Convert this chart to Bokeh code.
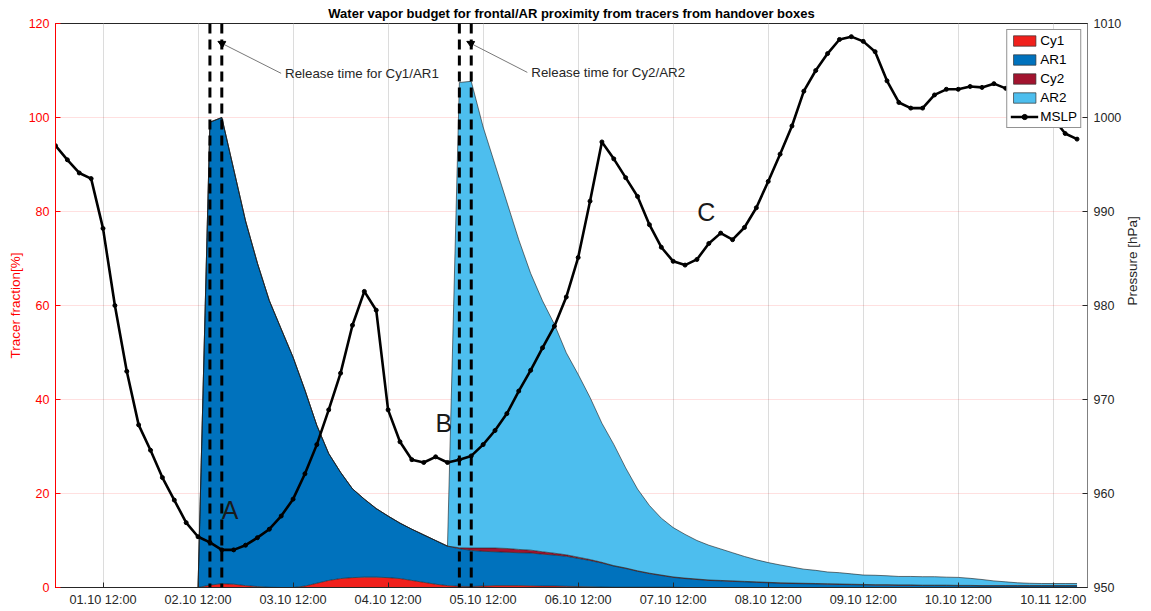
import math
from bokeh.plotting import figure
from bokeh.models import (Range1d, LinearAxis, Span, Label, Arrow, NormalHead,
                          Legend, LegendItem, ColumnDataSource, FixedTicker)
from bokeh.embed import file_html
from bokeh.resources import INLINE

# ---------------- data (3-hourly, hours since 01.10 00:00) ----------------
hours = [0, 3, 6, 9, 12, 15, 18, 21, 24, 27, 30, 33, 36, 39, 42, 45, 48, 51, 54, 57,
         60, 63, 66, 69, 72, 75, 78, 81, 84, 87, 90, 93, 96, 99, 102, 105, 108, 111,
         114, 117, 120, 123, 126, 129, 132, 135, 138, 141, 144, 147, 150, 153, 156,
         159, 162, 165, 168, 171, 174, 177, 180, 183, 186, 189, 192, 195, 198, 201,
         204, 207, 210, 213, 216, 219, 222, 225, 228, 231, 234, 237, 240, 243, 246,
         249, 252, 255, 258]

cy1 = [0, 0, 0, 0, 0, 0, 0, 0, 0, 0, 0, 0, 0,
       0.5, 0.8, 0.7, 0.4, 0.2, 0.05, 0, 0, 0.3, 0.9, 1.5, 1.9, 2.1, 2.2, 2.2, 2.1,
       1.9, 1.5, 1.1, 0.7, 0.4, 0.25, 0.2, 0.3, 0.4, 0.4, 0.4, 0.35, 0.3, 0.3, 0.25,
       0.2, 0.15, 0.1,
       0.05, 0.05, 0.05, 0.05, 0.05, 0.05,
       0, 0, 0, 0, 0, 0, 0, 0, 0, 0, 0, 0, 0, 0, 0, 0, 0,
       0, 0, 0, 0, 0, 0, 0, 0, 0, 0, 0, 0, 0, 0, 0, 0, 0]

ar1 = [0, 0, 0, 0, 0, 0, 0, 0, 0, 0, 0, 0, 0,
       98.5, 99.2, 88.3, 77.6, 68.8, 61.0, 55.0, 49.0, 41.7, 33.6, 27.0, 22.6, 18.9,
       16.6, 14.6, 13.1, 11.8, 10.9, 10.1, 9.3, 8.4, 8.0, 7.7, 7.4, 7.2, 7.1, 7.0,
       7.0, 6.8, 6.6, 6.4, 6.0, 5.6, 5.1,
       4.5, 4.0, 3.4, 2.9, 2.5, 2.1, 1.9, 1.7, 1.5, 1.4,
       1.3, 1.2, 1.1, 1.0, 0.9, 0.85, 0.8, 0.75, 0.7, 0.65,
       0.6, 0.55, 0.5, 0.5, 0.45, 0.45, 0.4, 0.4, 0.4, 0.35,
       0.35, 0.3, 0.3, 0.3, 0.3, 0.3, 0.3, 0.3, 0.3, 0.3]

cy2 = [0, 0, 0, 0, 0, 0, 0, 0, 0, 0, 0, 0, 0, 0, 0, 0, 0,
       0, 0, 0, 0, 0, 0, 0, 0, 0, 0, 0, 0, 0, 0, 0, 0, 0,
       0.2, 0.5, 0.7, 0.8, 0.8, 0.7, 0.6, 0.5, 0.4, 0.3, 0.25, 0.2, 0.15,
       0.1, 0.1, 0.1, 0.1, 0.1, 0.1, 0.1, 0.1, 0.1, 0.1,
       0.1, 0.1, 0.1, 0.1, 0.1, 0.1, 0.1, 0.1, 0.1, 0.1,
       0.1, 0.1, 0.1, 0.1, 0.1, 0.1, 0.1, 0.1, 0.1, 0.1,
       0.1, 0.1, 0.1, 0.1, 0.1, 0.1, 0.1, 0.1, 0.1, 0.1]

ar2 = [0, 0, 0, 0, 0, 0, 0, 0, 0, 0, 0, 0, 0, 0, 0, 0, 0,
       0, 0, 0, 0, 0, 0, 0, 0, 0, 0, 0, 0, 0, 0, 0, 0, 0,
       99.0, 99.3, 89.6, 81.6, 73.7, 65.9, 58.9, 53.4, 48.7, 43.0,
       38.9, 34.5, 29.6, 25.8, 21.3, 17.4, 14.4, 12.1, 10.5, 9.3,
       8.2, 7.4, 6.7, 6.0, 5.3, 4.7, 4.2, 3.8, 3.4, 3.0,
       2.8, 2.5, 2.4, 2.2, 2.0, 2.0, 1.9, 1.8, 1.8, 1.8,
       1.8, 1.7, 1.7, 1.5, 1.3, 1.0, 0.8, 0.6, 0.5, 0.45,
       0.45, 0.45, 0.45]

mslp = [997.0, 995.5, 994.1, 993.5, 988.2, 980.0, 973.0, 967.3, 964.6, 961.7,
        959.3, 956.9, 955.4, 954.8, 954.0, 954.0, 954.5, 955.3, 956.2, 957.6,
        959.4, 962.1, 965.2, 968.9, 972.8, 977.9, 981.5, 979.5, 968.9, 965.5,
        963.6, 963.3, 963.9, 963.3, 963.6, 964.0, 965.2, 966.7, 968.5, 970.9,
        973.1, 975.5, 977.8, 980.9, 985.1, 991.1, 997.4, 995.6, 993.6, 991.6,
        988.6, 986.2, 984.7, 984.3, 984.9, 986.6, 987.7, 987.0, 988.3, 990.4,
        993.2, 996.1, 999.1, 1002.8, 1005.0, 1006.8, 1008.3, 1008.6, 1008.1, 1007.0,
        1003.9, 1001.6, 1001.0, 1001.0, 1002.4, 1003.0, 1003.0, 1003.3, 1003.2, 1003.6,
        1003.1, 1002.7, 1002.3, 1001.5, 999.9, 998.3, 997.7]

release_times_h = [39, 42, 102, 105]

tick_times_h = [12, 36, 60, 84, 108, 132, 156, 180, 204, 228, 252]
tick_labels = ["01.10 12:00", "02.10 12:00", "03.10 12:00", "04.10 12:00",
               "05.10 12:00", "06.10 12:00", "07.10 12:00", "08.10 12:00",
               "09.10 12:00", "10.10 12:00", "10.11 12:00"]

series_names = ["Cy1", "AR1", "Cy2", "AR2"]
series_colors = ["#F0201C", "#0072BD", "#A2142F", "#4DBEEE"]

for arr in (cy1, ar1, cy2, ar2, mslp):
    assert len(arr) == len(hours), len(arr)

# ---------------- figure ----------------
FONT = "Liberation Sans"
days = [1 + h / 24 for h in hours]
tick_days = [1 + h / 24 for h in tick_times_h]

p = figure(width=1151, height=610, output_backend="svg", toolbar_location=None,
           x_range=Range1d(1.0, 11.86), y_range=Range1d(0, 120),
           min_border_left=55, min_border_right=64, min_border_top=23,
           min_border_bottom=23,
           title="Water vapor budget for frontal/AR proximity from tracers from handover boxes")
p.title.align = "center"
p.title.text_font = FONT
p.title.text_font_size = "13px"
p.title.text_font_style = "bold"
p.title.text_color = "#000000"
p.title.standoff = 6
p.background_fill_color = "white"
p.outline_line_color = "#262626"
p.outline_line_width = 1

p.extra_y_ranges = {"pres": Range1d(950, 1010)}

src = ColumnDataSource(dict(x=days, Cy1=cy1, AR1=ar1, Cy2=cy2, AR2=ar2))
areas = p.varea_stack(stackers=series_names, x="x", color=series_colors, source=src)
p.vline_stack(stackers=series_names, x="x", line_color="#1a1a1a", line_width=0.6,
              source=src)

# release time dashed lines
for rt in release_times_h:
    p.add_layout(Span(location=1 + rt / 24, dimension="height", line_color="black",
                      line_width=3, line_dash="10 6"))

# MSLP
mline = p.line(days, mslp, y_range_name="pres", line_color="black", line_width=2.6)
mpts = p.scatter(days, mslp, y_range_name="pres", marker="circle", size=4,
                 fill_color="black", line_color="black")

# axes
xax = p.xaxis[0]
xax.ticker = FixedTicker(ticks=tick_days)
xax.major_label_overrides = {d: lab for d, lab in zip(tick_days, tick_labels)}
xax.major_tick_in = 5
xax.major_tick_out = 0
xax.minor_tick_line_color = None
xax.axis_line_color = "#262626"
xax.major_tick_line_color = "#262626"
xax.major_label_text_color = "#262626"
xax.major_label_text_font = FONT
xax.major_label_text_font_size = "12.7px"
xax.major_label_standoff = 5

yax = p.yaxis[0]
yax.ticker = FixedTicker(ticks=[0, 20, 40, 60, 80, 100, 120])
yax.axis_label = "Tracer fraction[%]"
yax.axis_label_text_color = "#ff0000"
yax.axis_label_text_font = FONT
yax.axis_label_text_font_style = "normal"
yax.axis_label_text_font_size = "13.5px"
yax.axis_label_standoff = 3
yax.axis_line_color = "#ff0000"
yax.major_tick_line_color = "#ff0000"
yax.major_tick_in = 5
yax.major_tick_out = 0
yax.minor_tick_line_color = None
yax.major_label_text_color = "#ff0000"
yax.major_label_text_font = FONT
yax.major_label_text_font_size = "12.5px"
yax.major_label_standoff = 6

# right axis: ticks and numbers
rax = LinearAxis(y_range_name="pres",
                 ticker=FixedTicker(ticks=[950, 960, 970, 980, 990, 1000, 1010]))
rax.axis_line_color = "#808080"
rax.major_tick_line_color = "#262626"
rax.major_tick_in = 5
rax.major_tick_out = 0
rax.minor_tick_line_color = None
rax.major_label_text_color = "#262626"
rax.major_label_text_font = FONT
rax.major_label_text_font_size = "12.5px"
rax.major_label_standoff = 6
p.add_layout(rax, "right")

# right axis title (reading bottom-to-top), carried by a bare axis
lab_ax = LinearAxis(y_range_name="pres", bounds=(950, 1000.4),
                    ticker=FixedTicker(ticks=[]), axis_label="Pressure [hPa]")
lab_ax.axis_line_color = None
lab_ax.major_tick_line_color = None
lab_ax.minor_tick_line_color = None
lab_ax.major_tick_in = 0
lab_ax.major_tick_out = 0
lab_ax.major_label_standoff = 0
lab_ax.major_label_text_font_size = "0px"
lab_ax.axis_label_text_color = "#262626"
lab_ax.axis_label_text_font = FONT
lab_ax.axis_label_text_font_style = "normal"
lab_ax.axis_label_text_font_size = "13.5px"
lab_ax.axis_label_standoff = 8
try:
    lab_ax.axis_label_orientation = math.pi / 2
except Exception:
    pass
p.add_layout(lab_ax, "right")

# grids
p.xgrid.ticker = FixedTicker(ticks=tick_days)
p.xgrid.grid_line_color = "#dcdcdc"
p.xgrid.grid_line_width = 1
p.ygrid.ticker = FixedTicker(ticks=[20, 40, 60, 80, 100])
p.ygrid.grid_line_color = "#ff0000"
p.ygrid.grid_line_alpha = 0.12

# release annotations
for (xs, ys, xe, ye, txt) in [(3.374, 109.4, 2.709, 116.2, "Release time for Cy1/AR1"),
                              (5.965, 109.6, 5.328, 116.2, "Release time for Cy2/AR2")]:
    p.add_layout(Arrow(x_start=xs, y_start=ys, x_end=xe, y_end=ye,
                       line_color="#555555", line_width=0.8,
                       end=NormalHead(size=7, fill_color="black", line_color="black")))
    p.add_layout(Label(x=xs, y=ys, x_offset=4, text=txt, text_align="left",
                       text_baseline="middle", text_font=FONT,
                       text_font_size="13.3px", text_color="#262626"))

for (lx, ly, lt) in [(2.838, 16.4, "A"), (5.086, 34.9, "B"), (7.849, 79.8, "C")]:
    p.add_layout(Label(x=lx, y=ly, text=lt, text_align="center", text_baseline="middle",
                       text_font=FONT, text_font_size="25px", text_color="#1a1a1a"))

# legend (proxy glyphs with outline, no visible data)
items = []
for name, col in zip(series_names, series_colors):
    r = p.quad(left=[float("nan")], right=[float("nan")], top=[float("nan")],
               bottom=[float("nan")], fill_color=col,
               line_color="#333333", line_width=0.7)
    items.append(LegendItem(label=name, renderers=[r]))
items.append(LegendItem(label="MSLP", renderers=[mline, mpts]))
leg = Legend(items=items, location="top_right")
leg.margin = 6
leg.padding = 3
leg.spacing = 4
leg.glyph_width = 28
leg.glyph_height = 13
leg.label_height = 13
leg.label_standoff = 2
leg.label_text_font = FONT
leg.label_text_font_size = "13.5px"
leg.label_text_color = "#000000"
leg.border_line_color = "#262626"
leg.border_line_width = 1
leg.background_fill_alpha = 1
p.add_layout(leg)

open("out.html", "w").write(file_html(p, INLINE))
